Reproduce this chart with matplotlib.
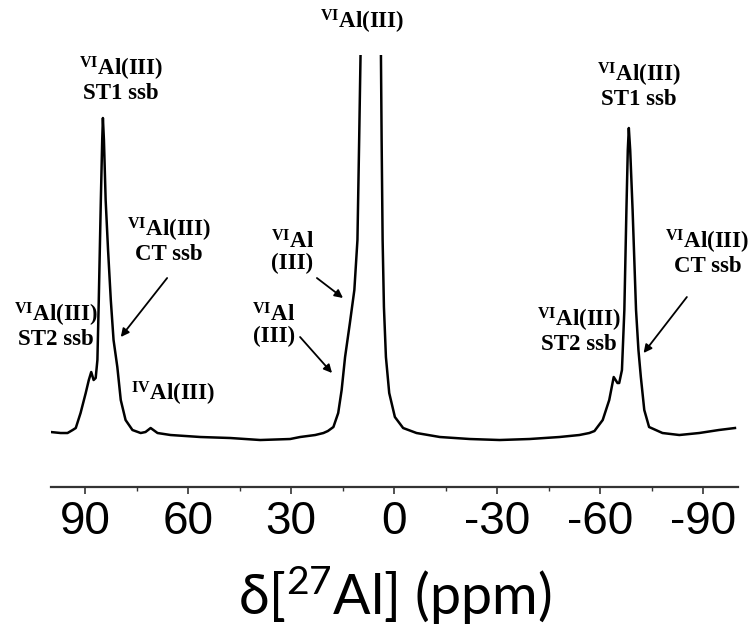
import matplotlib
matplotlib.use("Agg")
import matplotlib.pyplot as plt
from matplotlib.ticker import MultipleLocator

# 27Al MAS NMR spectrum (ppm, arbitrary intensity)
shift_ppm = [100.0, 97.1, 95.1, 93.6, 92.7, 91.3, 89.8, 88.9, 88.2, 87.5,
             86.9, 86.4, 86.0, 85.4, 85.0, 84.8, 84.5, 84.0, 83.3, 82.5,
             81.7, 80.6, 79.6, 78.2, 76.2, 73.8, 72.4, 70.9, 70.1, 68.9,
             65.1, 56.4, 47.7, 39.0, 30.3, 27.4, 23.0, 20.6, 19.3, 17.7,
             16.3, 15.3, 14.3, 12.9, 11.6, 10.7, 10.2, 9.8, 9.7, 6.8,
             3.9, 3.86, 3.66, 3.37, 2.99, 2.41, 1.45, -0.2, -2.6, -6.5,
             -13.3, -22.0, -30.7, -39.4, -48.1, -53.9, -56.8, -58.3, -60.7, -62.6,
             -63.9, -65.0, -65.5, -66.3, -67.0, -67.6, -68.0, -68.3, -68.7, -69.4,
             -70.4, -71.1, -71.8, -72.8, -74.2, -78.1, -83.0, -88.8, -94.5, -99.2]
intensity = [8, 7, 7, 10, 12, 27, 47, 60, 68, 60,
             62, 80, 140, 240, 300, 322, 300, 240, 190, 140,
             100, 73, 40, 20, 10, 7, 8, 12, 10, 7,
             5, 3, 2, 0, 1, 3, 5, 7, 9, 13,
             27, 50, 83, 117, 150, 200, 300, 385, 600, 1500,
             600, 385, 300, 200, 133, 83, 47, 23, 12, 7,
             3, 1, 0, 1, 3, 5, 7, 9, 20, 40,
             63, 57, 57, 70, 130, 230, 290, 312, 290, 230,
             130, 90, 63, 30, 13, 7, 5, 7, 10, 12]

x_ticks = [90, 60, 30, 0, -30, -60, -90]

# peak assignments: (text, ppm, intensity)
labels = [
    ("$\\mathbf{^{VI}Al(III)}$\nST1 ssb", 79.6, 361),
    ("$\\mathbf{^{VI}Al(III)}$\nCT ssb", 65.6, 200),
    ("$\\mathbf{^{VI}Al(III)}$\nST2 ssb", 98.5, 115),
    ("$\\mathbf{^{IV}Al(III)}$", 64.3, 46),
    ("$\\mathbf{^{VI}Al}$\n(III)", 29.6, 188),
    ("$\\mathbf{^{VI}Al}$\n(III)", 35.1, 115),
    ("$\\mathbf{^{VI}Al(III)}$", 9.4, 418),
    ("$\\mathbf{^{VI}Al(III)}$\nST1 ssb", -71.3, 355),
    ("$\\mathbf{^{VI}Al(III)}$\nST2 ssb", -53.8, 110),
    ("$\\mathbf{^{VI}Al(III)}$\nCT ssb", -91.2, 188),
]
# arrows: (tail ppm, tail int, head ppm, head int)
arrows = [
    (66.1, 162, 79.6, 103),
    (22.5, 162, 14.9, 142),
    (27.4, 103, 18.1, 67),
    (-85.2, 143, -72.6, 87),
]

plt.rcParams['axes.unicode_minus'] = False
plt.rcParams['mathtext.fontset'] = 'custom'
plt.rcParams['mathtext.bf'] = 'Liberation Serif:bold'
plt.rcParams['mathtext.rm'] = 'Liberation Serif'
plt.rcParams['mathtext.sf'] = 'Lato'

fig = plt.figure(figsize=(7.52, 6.28), dpi=100)
ax = fig.add_axes([0.0674, 0.2245, 0.9136, 0.6879])

ax.plot(shift_ppm, intensity, color='black', lw=1.8)
ax.set_xlim(100, -100)
ax.set_ylim(-47, 385)

for s in ['left', 'right', 'top']:
    ax.spines[s].set_visible(False)
ax.spines['bottom'].set_linewidth(1.6)
ax.spines['bottom'].set_color('#333333')
ax.set_yticks([])
ax.set_xticks(x_ticks)
ax.xaxis.set_minor_locator(MultipleLocator(15))
ax.tick_params(axis='x', which='major', length=5, width=1.2, color='#333333',
               labelsize=33, pad=4)
ax.tick_params(axis='x', which='minor', length=3, width=1.0, color='#333333')
for t in ax.get_xticklabels():
    t.set_fontfamily('Liberation Sans')

ax.set_xlabel("δ[$\\mathsf{^{27}}$Al] (ppm)", fontsize=40, family='Lato', labelpad=15)

for txt, px, py in labels:
    ax.text(px, py, txt, ha='center', va='center', fontsize=16.5,
            family='Liberation Serif', fontweight='bold', linespacing=1.0)

for x0, y0, x1, y1 in arrows:
    ax.annotate("", xy=(x1, y1), xytext=(x0, y0),
                arrowprops=dict(arrowstyle='-|>', lw=1.3, color='black',
                                mutation_scale=12, shrinkA=0, shrinkB=0))

fig.savefig("out.png", dpi=100)
